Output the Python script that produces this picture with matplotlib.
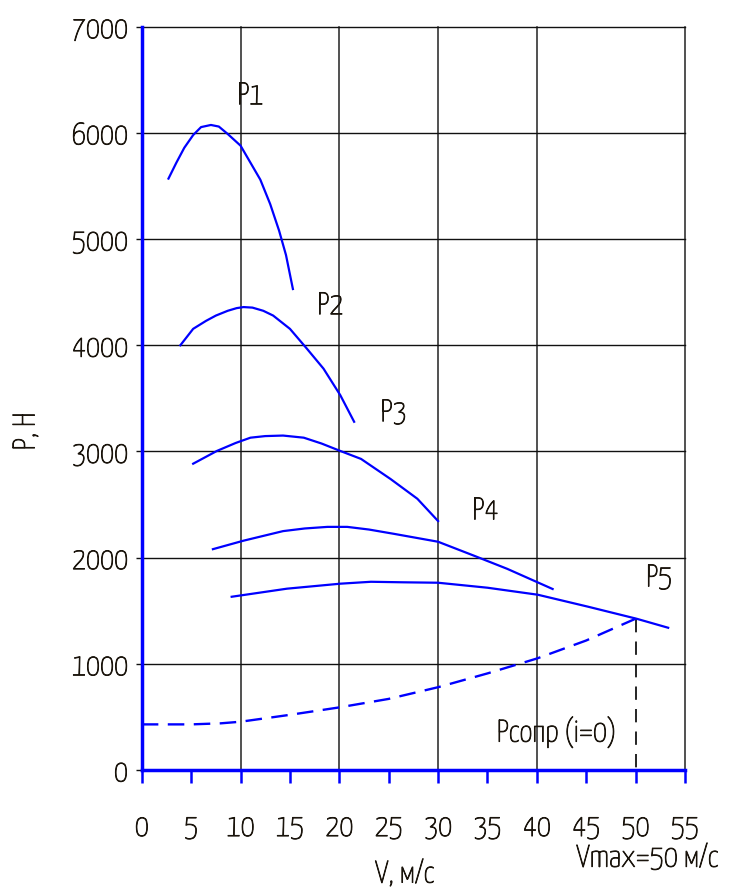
import matplotlib
matplotlib.use("Agg")
import matplotlib.pyplot as plt
from matplotlib import font_manager
import matplotlib.patheffects as pe

# ---- data ----
p1_v = [2.7, 3.5, 4.3, 5.2, 6.0, 7.0, 7.8, 8.7, 10.0, 11.0, 12.0, 13.0, 13.9, 14.6, 15.3]
p1_p = [5570, 5720, 5860, 5980, 6055, 6075, 6060, 5990, 5880, 5720, 5560, 5330, 5080, 4850, 4530]

p2_v = [3.9, 5.2, 6.5, 7.5, 8.7, 9.6, 10.3, 11.2, 12.3, 13.3, 15.0, 16.7, 18.4, 20.1, 21.5]
p2_p = [4000, 4155, 4230, 4280, 4325, 4350, 4360, 4355, 4325, 4280, 4155, 3970, 3780, 3530, 3280]

p3_v = [5.2, 7.6, 9.5, 11.0, 12.5, 14.3, 16.4, 18.2, 20.1, 22.2, 25.2, 27.9, 30.0]
p3_p = [2885, 3005, 3080, 3130, 3145, 3150, 3130, 3075, 3005, 2930, 2740, 2555, 2345]

p4_v = [7.2, 10.3, 14.3, 16.5, 18.8, 20.8, 23.0, 25.5, 30.0, 33.6, 37.0, 41.6]
p4_p = [2080, 2160, 2250, 2275, 2290, 2290, 2265, 2225, 2150, 2020, 1895, 1705]

p5_v = [9.1, 14.7, 20.1, 23.2, 26.5, 30.0, 35.0, 40.1, 45.2, 50.1, 53.3]
p5_p = [1632, 1708, 1755, 1773, 1768, 1764, 1717, 1651, 1538, 1425, 1340]

res_v = [0, 5, 8, 10, 15, 20, 25, 30, 35, 40, 45, 50]
res_p = [430, 430, 440, 455, 520, 590, 670, 780, 910, 1050, 1220, 1425]

v_max = 50
p_at_vmax = 1425

x_ticks = [0, 5, 10, 15, 20, 25, 30, 35, 40, 45, 50, 55]
y_ticks = [0, 1000, 2000, 3000, 4000, 5000, 6000, 7000]
grid_x = [10, 20, 30, 40, 55]
grid_y = [1000, 2000, 3000, 4000, 5000, 6000, 7000]

curve_labels = ["P1", "P2", "P3", "P4", "P5"]
label_v = [11.0, 19.1, 25.5, 34.8, 52.4]
label_p = [6350, 4373, 3365, 2441, 1810]
res_label = "Pсопр (i=0)"

# ---- fonts ----
avail = {f.name for f in font_manager.fontManager.ttflist}
cands = ["Yanone Kaffeesatz", "Sofia Sans Extra Condensed", "Fira Sans Extra Condensed",
         "Roboto Condensed"]
fam = [c for c in cands if c in avail][:1] or ["DejaVu Sans"]
plt.rcParams['font.family'] = fam + ["DejaVu Sans"]
plt.rcParams['font.weight'] = 'normal'
txt_color = "#1a140c"
fs = 22.5
thick = [pe.withStroke(linewidth=0.6, foreground=txt_color)]

BLUE = "#0000ff"

fig = plt.figure(figsize=(7.31, 8.95), dpi=100)
ax = fig.add_axes([0.194, 0.1385, 0.743, 0.8305])
ax.set_xlim(0, 55)
ax.set_ylim(0, 7000)

for gx in grid_x:
    ax.axvline(gx, color="#222222", lw=1.1, zorder=1, clip_on=False)
for gy in grid_y:
    ax.axhline(gy, color="#111111", lw=1.0, zorder=1, clip_on=False)

for v, p in [(p1_v, p1_p), (p2_v, p2_p), (p3_v, p3_p), (p4_v, p4_p), (p5_v, p5_p)]:
    ax.plot(v, p, color=BLUE, lw=1.6, zorder=3)

ax.plot(res_v, res_p, color=BLUE, lw=1.7, dashes=(7, 4), zorder=3)
ax.plot([v_max, v_max], [p_at_vmax, 0], color="#000000", lw=1.2, dashes=(8, 5.5), zorder=2)

for lab, lv, lp in zip(curve_labels, label_v, label_p):
    ax.text(lv, lp, lab, fontsize=fs, color=txt_color, ha="center", va="center",
            path_effects=thick)
ax.text(42.0, 358, res_label, fontsize=fs, color=txt_color, ha="center", va="center",
        path_effects=thick)

for s in ["top", "right"]:
    ax.spines[s].set_visible(False)
for s in ["left", "bottom"]:
    ax.spines[s].set_color(BLUE)
    ax.spines[s].set_linewidth(2.5)
    ax.spines[s].set_zorder(4)

ax.set_xticks(x_ticks)
ax.set_xticklabels([str(t) for t in x_ticks])
ax.set_yticks(y_ticks)
ax.set_yticklabels([str(t) for t in y_ticks])
ax.tick_params(axis="x", direction="out", length=9, width=1.8, color=BLUE,
               pad=22, labelsize=fs, labelcolor=txt_color)
ax.tick_params(axis="y", direction="out", length=4, width=1.0, color="#111111",
               pad=6, labelsize=fs, labelcolor=txt_color)
for lbl in ax.get_xticklabels() + ax.get_yticklabels():
    lbl.set_path_effects(thick)

fig.text(0.554, 0.0223, "V, м/с", fontsize=fs, color=txt_color, ha="center", va="center",
         path_effects=thick)
fig.text(0.886, 0.0400, "Vmax=50 м/с", fontsize=fs, color=txt_color, ha="center", va="center",
         path_effects=thick)
fig.text(0.0356, 0.517, "P, H", fontsize=fs, color=txt_color, ha="center", va="center",
         rotation=90, path_effects=thick)

fig.savefig("out.png", dpi=100)
